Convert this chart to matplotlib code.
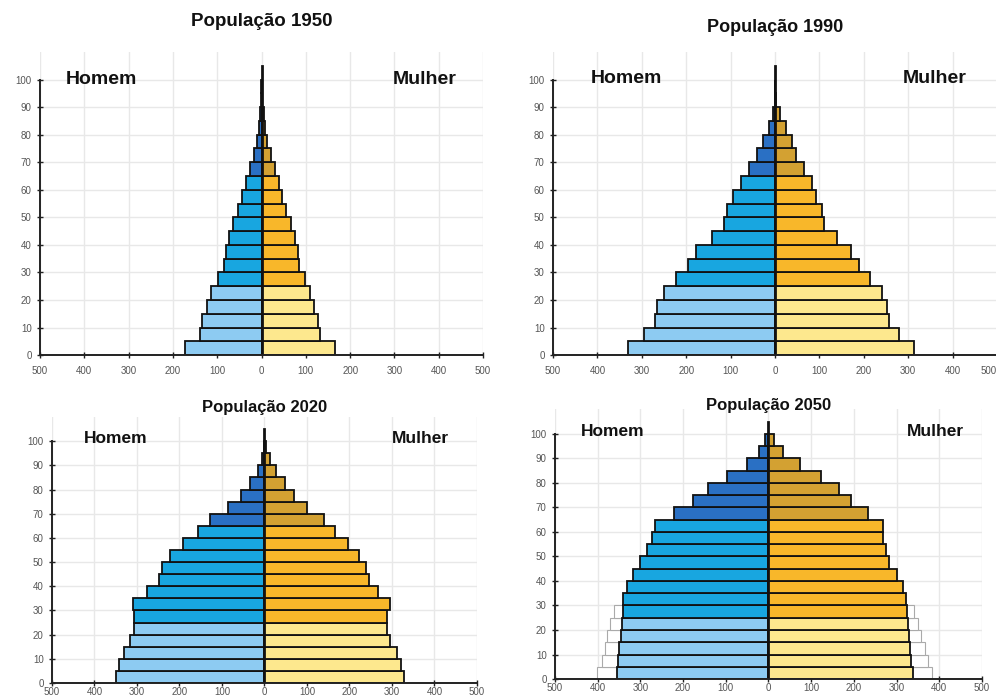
import numpy as np
import matplotlib.pyplot as plt
from matplotlib.ticker import FuncFormatter

plt.rcParams['font.family'] = ['Liberation Sans', 'DejaVu Sans']

# faixas etarias 0-4, 5-9, ..., 95-99
idades = np.arange(0, 100, 5)

homem_1950 = [173, 139, 135, 123, 113, 98, 85, 81, 73, 64, 53, 43, 34, 25, 17, 10, 5, 3, 1.5, 0.5]
mulher_1950 = [165, 132, 128, 118, 109, 99, 85, 83, 75, 66, 55, 47, 40, 31, 21, 13, 8, 5, 2, 0.5]

homem_1990 = [331, 295, 271, 265, 250, 223, 197, 178, 141, 115, 107, 94, 77, 58, 40, 26, 13, 5, 1, 0.5]
mulher_1990 = [314, 280, 257, 252, 241, 214, 189, 171, 139, 111, 107, 92, 83, 65, 47, 38, 24, 11, 2, 0.5]

homem_2020 = [350, 342, 331, 316, 306, 306, 310, 277, 249, 241, 222, 192, 157, 129, 87, 56, 34, 16, 6, 2]
mulher_2020 = [328, 321, 311, 295, 288, 288, 295, 268, 245, 238, 223, 196, 165, 140, 101, 70, 49, 27, 12, 3]

homem_2050 = [355, 352, 349, 346, 344, 341, 340, 332, 318, 301, 285, 273, 266, 221, 177, 141, 98, 51, 23, 8]
mulher_2050 = [338, 334, 332, 330, 326, 324, 323, 314, 301, 283, 275, 268, 268, 233, 194, 166, 123, 74, 35, 12]

# contorno branco (0-29) no grafico de 2050
homem_2050_ref = [401, 391, 384, 378, 370, 361]
mulher_2050_ref = [384, 374, 366, 358, 351, 342]

azul = ['#8dcbf2'] * 5 + ['#18a6e0'] * 8 + ['#2a70c4'] * 7
amarelo = ['#fde88e'] * 5 + ['#f8b72a'] * 8 + ['#d3a132'] * 7


def piramide(ax, titulo, homem, mulher, tam_titulo, tam_sexo, ty, hx, mx, sy,
             homem_ref=None, mulher_ref=None, xpad=6):
    ax.set_xlim(-500, 500)
    ax.set_ylim(0, 110)
    ax.set_xticks(np.arange(-500, 501, 100))
    ax.set_yticks(np.arange(0, 101, 10))
    ax.xaxis.set_major_formatter(FuncFormatter(lambda v, p: '%d' % abs(v)))
    ax.grid(True, color='#e8e8e8', lw=1)
    ax.set_axisbelow(True)

    if homem_ref is not None:
        n = len(homem_ref)
        ax.barh(idades[:n], [-v for v in homem_ref], height=5, align='edge',
                color='white', edgecolor='#aaaaaa', lw=0.8)
        ax.barh(idades[:n], mulher_ref, height=5, align='edge',
                color='white', edgecolor='#aaaaaa', lw=0.8)

    ax.barh(idades, [-v for v in homem], height=5, align='edge',
            color=azul, edgecolor='#111111', lw=1.3)
    ax.barh(idades, mulher, height=5, align='edge',
            color=amarelo, edgecolor='#111111', lw=1.3)
    ax.plot([0, 0], [0, 105], color='#111111', lw=2)

    for s in ['top', 'right']:
        ax.spines[s].set_visible(False)
    ax.spines['left'].set_bounds(0, 100)
    for s in ['left', 'bottom']:
        ax.spines[s].set_color('#222222')
        ax.spines[s].set_linewidth(1.4)
    ax.tick_params(axis='both', labelsize=7, colors='#222222', labelcolor='#555555',
                   length=4, width=1, direction='inout')
    ax.tick_params(axis='x', pad=xpad)
    ax.tick_params(axis='y', pad=4)

    ax.text(0, ty, titulo, ha='center', va='center', fontsize=tam_titulo,
            fontweight='bold', color='#111111', clip_on=False)
    ax.text(hx, sy, 'Homem', ha='left', va='center', fontsize=tam_sexo,
            fontweight='bold', color='#111111')
    ax.text(mx, sy, 'Mulher', ha='right', va='center', fontsize=tam_sexo,
            fontweight='bold', color='#111111')


fig = plt.figure(figsize=(9.96, 6.99), dpi=100)

ax1 = fig.add_axes([0.0402, 0.492, 0.4448, 0.4335])
piramide(ax1, 'População 1950', homem_1950, mulher_1950, 13.5, 14, 121, -442, 440, 100)

ax2 = fig.add_axes([0.5552, 0.492, 0.4458, 0.4335])
piramide(ax2, 'População 1990', homem_1990, mulher_1990, 13, 14, 119, -414, 432, 100.5)
# o ultimo rotulo fica na borda da figura
ax2.get_xticklabels()[-1].set_horizontalalignment('right')

ax3 = fig.add_axes([0.0522, 0.0229, 0.4267, 0.3805])
piramide(ax3, 'População 2020', homem_2020, mulher_2020, 12, 12.5, 114, -426, 435, 101,
         xpad=1)

ax4 = fig.add_axes([0.5572, 0.0286, 0.4287, 0.3856])
piramide(ax4, 'População 2050', homem_2050, mulher_2050, 12, 12.5, 111.5, -440, 459, 101,
         homem_2050_ref, mulher_2050_ref, xpad=1)

fig.savefig('out.png', dpi=100)
